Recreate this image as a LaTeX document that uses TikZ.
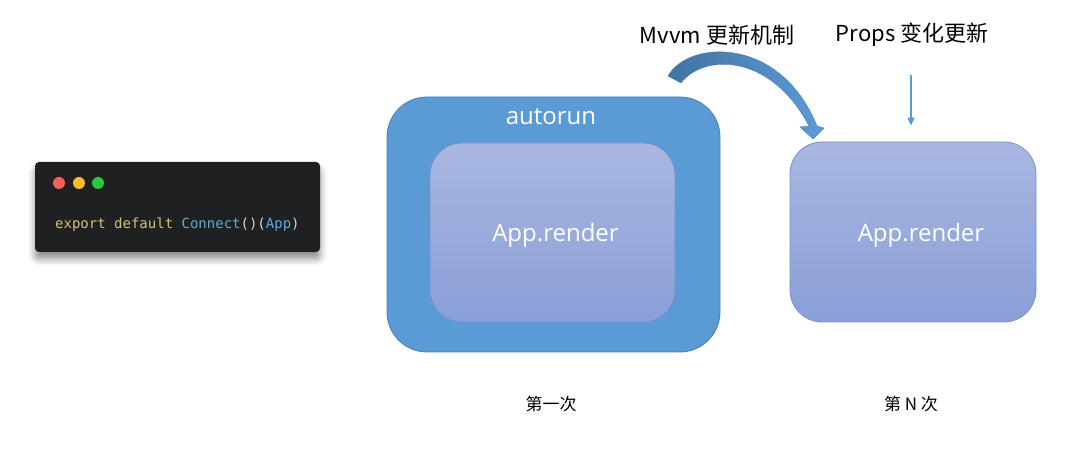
\documentclass[tikz,border=0pt]{standalone}
\usepackage{fontspec}
\setmainfont{Open Sans}
\setmonofont{DejaVu Sans Mono}
\newfontfamily\cjk{Noto Sans CJK SC}
\usetikzlibrary{shadows.blur,arrows.meta}
\definecolor{officeblue}{HTML}{5B9BD5}
\definecolor{officeedge}{HTML}{4A7FB5}
\definecolor{lavtop}{HTML}{A9B7E1}
\definecolor{lavbot}{HTML}{8A9FD7}
\definecolor{lavedge}{HTML}{7690CF}
\definecolor{codebg}{HTML}{1F2022}
\definecolor{codeyellow}{HTML}{D8C07A}
\definecolor{codecyan}{HTML}{5BAFC9}
\definecolor{codeblue}{HTML}{62A9DA}
\definecolor{codegrey}{HTML}{D6D6D6}
\begin{document}
\begin{tikzpicture}[x=1pt, y=1pt,
					outer_box/.style = {draw=officeedge, fill=officeblue, rounded corners=40pt, line width=0.8pt},
					render_box/.style = {draw=lavedge, top color=lavtop, bottom color=lavbot, rounded corners=32pt, line width=0.8pt},
					box_text/.style = {text=white, font=\fontsize{24}{28}\selectfont},
					top_label/.style = {font=\cjk\fontsize{22}{26}\selectfont},
					bottom_label/.style = {font=\cjk\fontsize{17}{20}\selectfont},
					dot/.style = {circle, inner sep=0pt, minimum size=12pt}
				]
				\useasboundingbox (0,0) rectangle (1080,460);

				% code window
				\node[fill=codebg, rounded corners=4pt, minimum width=285pt, minimum height=90pt,
					blur shadow={shadow xshift=0pt, shadow yshift=-7pt, shadow blur radius=7pt, shadow opacity=45}]
					(code) at (177.5,253) {};
				\node[dot, fill={rgb,255:red,255;green,95;blue,86}] (red) at (59,277) {};
				\node[dot, fill={rgb,255:red,255;green,189;blue,46}] (yellow) at (79,277) {};
				\node[dot, fill={rgb,255:red,39;green,201;blue,63}] (green) at (98,277) {};
				\node[font=\ttfamily\fontsize{14}{16}\selectfont, anchor=west, inner sep=0pt] (line) at (55,235)
					{\textcolor{codeyellow}{export default} \textcolor{codecyan}{Connect}\textcolor{codegrey}{()(}\textcolor{codeblue}{App}\textcolor{codegrey}{)}};

				% first render
				\node[outer_box, minimum width=333pt, minimum height=255pt] (autorun) at (553.5,235.5) {};
				\node[box_text] (autorun_label) at (551,343) {autorun};
				\node[render_box, minimum width=245pt, minimum height=179pt] (first) at (552.5,227.5) {};
				\node[box_text] (first_label) at ([shift={(3,-3)}]first.center) {App.render};

				% n-th render
				\node[render_box, minimum width=246pt, minimum height=180pt] (nth) at (913,228) {};
				\node[box_text] (nth_label) at ([shift={(8,-3)}]nth.center) {App.render};

				% top labels
				\node[top_label] (mvvm) at (717,425) {Mvvm 更新机制};
				\node[top_label] (props) at (912,425) {Props 变化更新};
				\draw[-{Triangle[width=7pt,length=8pt]}, officeblue, line width=1.6pt,
					shorten <=25pt, shorten >=16pt] (props.south -| 911,0) -- (nth.north -| 911,0);

				% curved block arrow
				\coordinate (tail_out) at (668,384);
				\coordinate (tail_in) at (681,377);
				\shade[left color=officeedge!90!black, right color=officeblue, draw=officeedge, line width=0.4pt]
					(tail_out) .. controls (688,420) and (780,425) .. (817,334)
					-- (824,332) -- (813,321) -- (800,333) -- (809,334)
					.. controls (770,408) and (703,406) .. (tail_in) -- cycle;

				% bottom labels
				\node[bottom_label] (first_time) at (551,56) {第一次};
				\node[bottom_label] (nth_time) at (911,56) {第 N 次};
			\end{tikzpicture}
\end{document}
